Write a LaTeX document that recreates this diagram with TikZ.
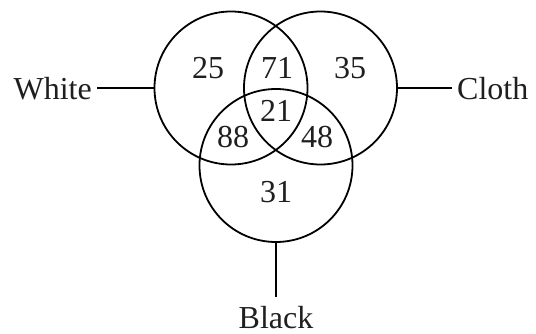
\documentclass[tikz,border=0pt]{standalone}
\usepackage{fontspec}
\setmainfont{Liberation Serif}
\begin{document}
\begin{tikzpicture}[x=1pt,y=-1pt,
  setc/.style={circle,draw,line width=1.8pt,minimum size=153pt,inner sep=0pt},
  lbl/.style={font=\fontsize{32}{38}\selectfont,inner sep=0pt,text=black!88},
  num/.style={font=\fontsize{32}{38}\selectfont,inner sep=0pt,text=black!88},
  conn/.style={line width=1.8pt}]
\useasboundingbox (0,0) rectangle (536,334);
\node[setc] (W) at (231,88) {};
\node[setc] (C) at (320.5,88) {};
\node[setc] (B) at (276,165.5) {};
\node[lbl,anchor=east] (wl) at (92,89) {White};
\node[lbl,anchor=west] (cl) at (457,88.5) {Cloth};
\node[lbl] (bl) at (276,318) {Black};
\coordinate (wend) at (97,88);
\coordinate (cend) at (452,88);
\coordinate (bend) at (276,297);
\draw[conn] (W.west) -- (wend);
\draw[conn] (C.east) -- (cend);
\draw[conn] (B.south) -- (bend);
\node[num] (n25) at (208,68) {25};
\node[num] (n71) at (277,68) {71};
\node[num] (n35) at (350,68) {35};
\node[num] (n21) at (276,111) {21};
\node[num] (n88) at (233,137.5) {88};
\node[num] (n48) at (317,137.5) {48};
\node[num] (n31) at (276,192) {31};
\end{tikzpicture}
\end{document}
